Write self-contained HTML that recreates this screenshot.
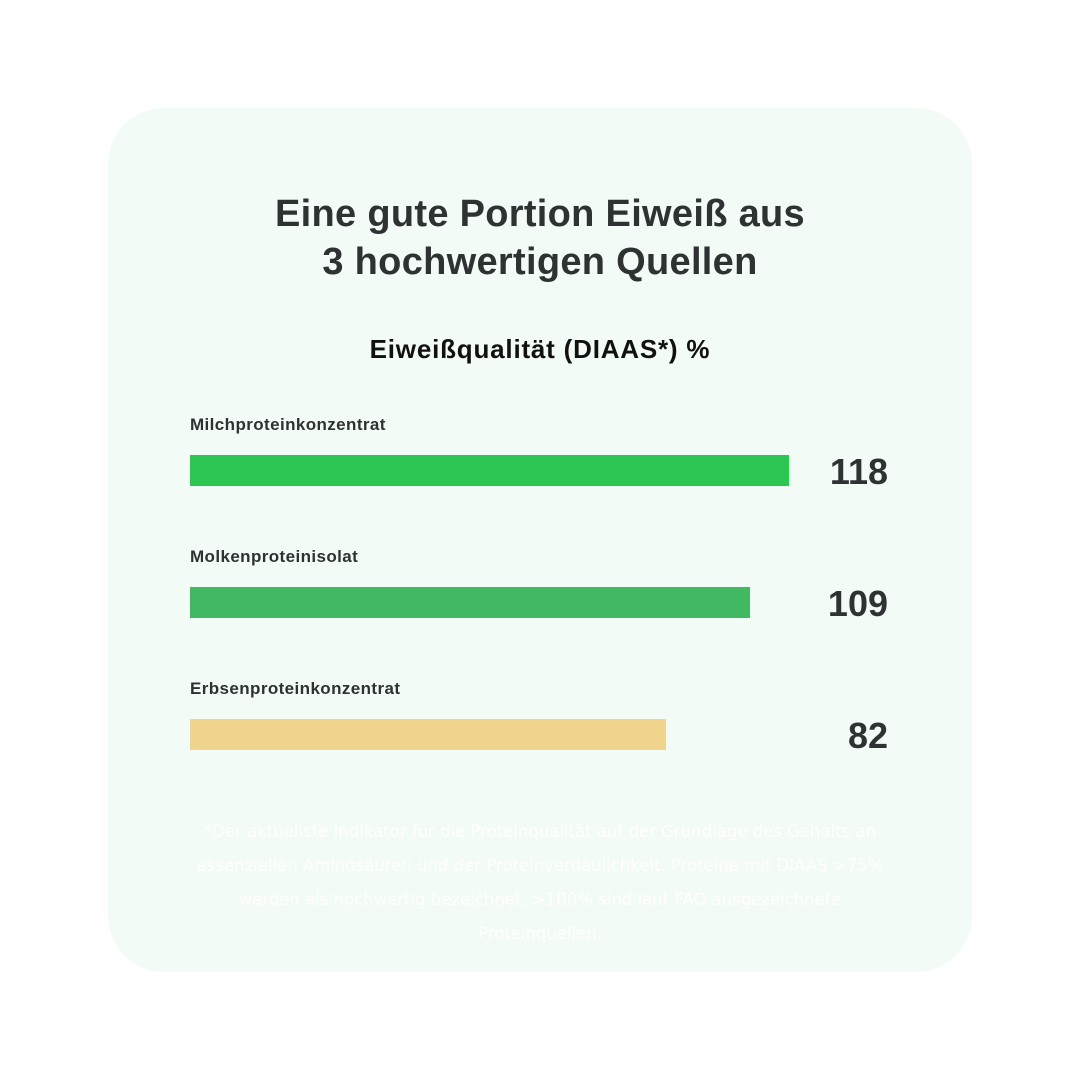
<!DOCTYPE html>
<html><head><meta charset="utf-8"><style>
body{margin:0;width:1080px;height:1080px;background:#fff;font-family:"Liberation Sans",sans-serif;position:relative}
.card{position:absolute;left:108px;top:108px;width:864px;height:864px;border-radius:56px;background:#f2fbf5}
.t{position:absolute;left:0;width:1080px;text-align:center;font-weight:bold;color:#2e3232}
.lab{position:absolute;left:190px;font-size:17px;letter-spacing:0.4px;font-weight:bold;color:#2e3232}
.bar{position:absolute;left:190px;height:31px}
.num{position:absolute;right:192px;font-size:36px;font-weight:bold;color:#2e3232;text-align:right}
.fn{position:absolute;left:175px;width:730px;top:815px;text-align:center;font-family:"DejaVu Sans",sans-serif;font-size:16.5px;line-height:34px;color:#fff}
</style></head><body>
<div class="card"></div>
<div class="t" style="top:190px;font-size:38px;line-height:48px;letter-spacing:0.3px">Eine gute Portion Eiweiß aus<br>3 hochwertigen Quellen</div>
<div class="t" style="top:334px;font-size:26px;letter-spacing:0.8px;color:#111">Eiweißqualität (DIAAS*) %</div>
<div class="lab" style="top:415px">Milchproteinkonzentrat</div>
<div class="bar" style="top:455px;width:599px;background:#2dc653"></div>
<div class="num" style="top:451px">118</div>
<div class="lab" style="top:547px">Molkenproteinisolat</div>
<div class="bar" style="top:587px;width:560px;background:#41b862"></div>
<div class="num" style="top:583px">109</div>
<div class="lab" style="top:679px">Erbsenproteinkonzentrat</div>
<div class="bar" style="top:719px;width:476px;background:#f1d48b"></div>
<div class="num" style="top:715px">82</div>
<div class="fn">*Der aktuellste Indikator für die Proteinqualität auf der Grundlage des Gehalts an essenziellen Aminosäuren und der Proteinverdaulichkeit. Proteine mit DIAAS &gt;75% werden als hochwertig bezeichnet, &gt;100% sind laut FAO ausgezeichnete Proteinquellen.</div>
</body></html>
